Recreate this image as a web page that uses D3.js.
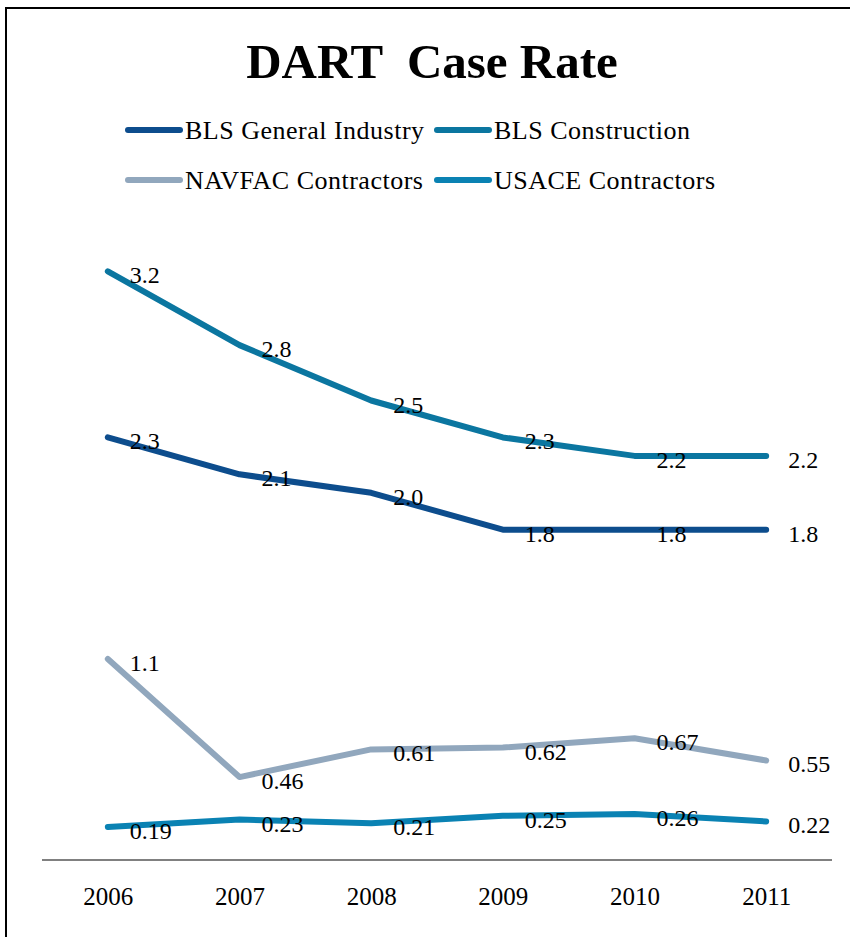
<!DOCTYPE html>
<html><head><meta charset="utf-8">
<script src="https://cdnjs.cloudflare.com/ajax/libs/d3/7.8.5/d3.min.js"></script>
<style>
html,body{margin:0;padding:0;background:#fff;}
svg text{font-family:"Liberation Serif","DejaVu Serif",serif;font-variant-numeric:oldstyle-nums;}
</style></head>
<body><svg id="c" width="850" height="937"></svg>
<script>
const years = ["2006","2007","2008","2009","2010","2011"];
const seriesNames = ["BLS General Industry","BLS Construction","NAVFAC Contractors","USACE Contractors"];
const blsGeneral = [2.3, 2.1, 2.0, 1.8, 1.8, 1.8];
const blsConstruction = [3.2, 2.8, 2.5, 2.3, 2.2, 2.2];
const navfac = [1.1, 0.46, 0.61, 0.62, 0.67, 0.55];
const usace = [0.19, 0.23, 0.21, 0.25, 0.26, 0.22];
const labelsGeneral = ["2.3","2.1","2.0","1.8","1.8","1.8"];
const labelsConstruction = ["3.2","2.8","2.5","2.3","2.2","2.2"];
const labelsNavfac = ["1.1","0.46","0.61","0.62","0.67","0.55"];
const labelsUsace = ["0.19","0.23","0.21","0.25","0.26","0.22"];
const colors = ["#0d4d8d","#0b76a0","#91a7bd","#0a82b3"];

const series = [
  {name: seriesNames[0], values: blsGeneral, labels: labelsGeneral, color: colors[0]},
  {name: seriesNames[1], values: blsConstruction, labels: labelsConstruction, color: colors[1]},
  {name: seriesNames[2], values: navfac, labels: labelsNavfac, color: colors[2]},
  {name: seriesNames[3], values: usace, labels: labelsUsace, color: colors[3]}
];

const svg = d3.select("#c");
// frame
svg.append("rect").attr("x",6).attr("y",8).attr("width",870).attr("height",960)
  .attr("fill","none").attr("stroke","#000").attr("stroke-width",2);

// title
svg.append("text").attr("x",432).attr("y",78).attr("text-anchor","middle")
  .attr("font-size",49).attr("font-weight","bold").attr("xml:space","preserve")
  .text("DART  Case Rate");

// legend
const legPos = [[128,130],[437,130],[128,180],[437,180]];
series.forEach((s,i)=>{
  const [lx,ly] = legPos[i];
  svg.append("line").attr("x1",lx).attr("x2",lx+52).attr("y1",ly).attr("y2",ly)
    .attr("stroke",s.color).attr("stroke-width",6).attr("stroke-linecap","round");
  svg.append("text").attr("x",lx+57).attr("y",ly+9).attr("font-size",26)
    .attr("letter-spacing",0.5).text(s.name);
});

const x = d3.scalePoint().domain(years).range([42,832]).padding(0.5);
const y = d3.scaleLinear().domain([0,3.5]).range([862, 862-3.5*184.6]);

// axis
const xAxis = d3.axisBottom(x).tickSize(0).tickPadding(0);
const ax = svg.append("g").attr("transform","translate(0,860)").call(xAxis);
ax.select(".domain").attr("stroke","#808080").attr("stroke-width",2)
  .attr("d","M42,0H832");
ax.selectAll(".tick text").attr("font-size",25).attr("fill","#000")
  .attr("dy",0).attr("y",45)
  .style("font-family",'"Liberation Serif","DejaVu Serif",serif');

const line = d3.line().x((d,i)=>x(years[i])).y(d=>y(d));
series.forEach(s=>{
  svg.append("path").datum(s.values).attr("d",line).attr("fill","none")
    .attr("stroke",s.color).attr("stroke-width",6).attr("stroke-linecap","round")
    .attr("stroke-linejoin","round");
});
series.forEach(s=>{
  svg.append("g").selectAll("text").data(s.values).join("text")
    .attr("x",(d,i)=>x(years[i])+22).attr("y",d=>y(d)+12)
    .attr("font-size",24).attr("fill","#000")
    .text((d,i)=>s.labels[i]);
});
</script></body></html>
